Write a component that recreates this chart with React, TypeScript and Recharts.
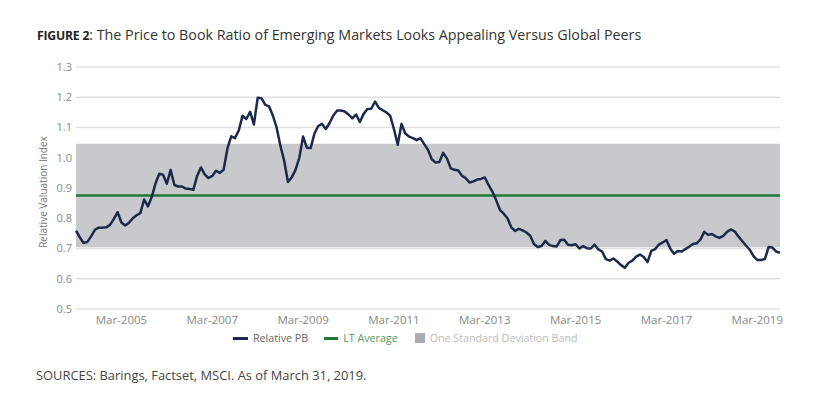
import React from 'react';
import { LineChart, Line, XAxis, YAxis, CartesianGrid, ReferenceArea } from 'recharts';

// monthly relative price-to-book, Mar-2004 onwards
const START_YEAR = 2004;
const START_MONTH = 2;
const MONTH_NAMES = ['Jan', 'Feb', 'Mar', 'Apr', 'May', 'Jun', 'Jul', 'Aug', 'Sep', 'Oct', 'Nov', 'Dec'];

const relativePB = [
  0.759, 0.737, 0.718, 0.722, 0.74, 0.762, 0.769, 0.769, 0.77, 0.778, 0.798, 0.82,
  0.786, 0.776, 0.785, 0.8, 0.81, 0.817, 0.862, 0.839, 0.87, 0.915, 0.947, 0.944,
  0.914, 0.96, 0.91, 0.905, 0.905, 0.898, 0.897, 0.894, 0.94, 0.968, 0.945, 0.933,
  0.94, 0.957, 0.95, 0.96, 1.03, 1.071, 1.065, 1.09, 1.139, 1.128, 1.152, 1.11,
  1.198, 1.197, 1.175, 1.17, 1.14, 1.1, 1.04, 0.99, 0.92, 0.935, 0.96, 1.0,
  1.07, 1.033, 1.032, 1.08, 1.105, 1.112, 1.095, 1.115, 1.14, 1.156, 1.156, 1.153,
  1.143, 1.13, 1.143, 1.118, 1.145, 1.161, 1.162, 1.186, 1.165, 1.157, 1.15, 1.139,
  1.095, 1.043, 1.112, 1.08, 1.07, 1.065, 1.058, 1.065, 1.045, 1.026, 0.995, 0.984,
  0.986, 1.016, 0.998, 0.965, 0.96, 0.958, 0.94, 0.932, 0.918, 0.922, 0.928, 0.93,
  0.935, 0.91, 0.888, 0.86, 0.828, 0.815, 0.8, 0.77, 0.758, 0.765, 0.76, 0.753,
  0.742, 0.715, 0.705, 0.708, 0.725, 0.712, 0.708, 0.707, 0.728, 0.729, 0.712, 0.711,
  0.714, 0.7, 0.708, 0.701, 0.7, 0.713, 0.697, 0.69, 0.665, 0.66, 0.667, 0.657,
  0.645, 0.636, 0.653, 0.66, 0.673, 0.68, 0.672, 0.655, 0.692, 0.698, 0.713, 0.72,
  0.728, 0.7, 0.683, 0.692, 0.69, 0.698, 0.706, 0.715, 0.717, 0.73, 0.755, 0.745,
  0.748, 0.74, 0.735, 0.742, 0.755, 0.763, 0.757, 0.74, 0.725, 0.71, 0.696, 0.675,
  0.662, 0.662, 0.665, 0.705, 0.703, 0.69, 0.686,
];

const LT_AVERAGE = 0.875;
const BAND_LOW = 0.704;
const BAND_HIGH = 1.046;

const yTicks = [0.5, 0.6, 0.7, 0.8, 0.9, 1.0, 1.1, 1.2, 1.3];
const xTicks = ['Mar-2005', 'Mar-2007', 'Mar-2009', 'Mar-2011', 'Mar-2013', 'Mar-2015', 'Mar-2017', 'Mar-2019'];

const months = relativePB.map((_, i) => {
  const m = START_MONTH + i;
  return `${MONTH_NAMES[m % 12]}-${START_YEAR + Math.floor(m / 12)}`;
});

const data = months.map((month, i) => ({ month, pb: relativePB[i], avg: LT_AVERAGE }));

const NAVY = '#1b2a4c';
const GREEN = '#1f7a35';
const BAND = '#c7c9cc';
const FONT = '"Open Sans", sans-serif';

export default function App() {
  return (
    <div style={{ position: 'absolute', left: 0, top: 0, width: 829, height: 394, background: '#fff', fontFamily: FONT }}>
      <div style={{ position: 'absolute', left: 37, top: 25, fontSize: 14.3, color: '#333', whiteSpace: 'nowrap' }}>
        <span style={{ fontWeight: 700, fontSize: 12.2, color: '#222', letterSpacing: -0.2 }}>FIGURE 2</span>: The Price to Book Ratio of
        Emerging Markets Looks Appealing Versus Global Peers
      </div>
      <div
        style={{
          position: 'absolute',
          left: 43,
          top: 192,
          transform: 'translate(-50%, -50%) rotate(-90deg)',
          fontSize: 10,
          color: '#777',
          whiteSpace: 'nowrap',
        }}
      >
        Relative Valuation Index
      </div>
      <div style={{ position: 'absolute', left: 0, top: 0 }}>
        <LineChart width={829} height={394} data={data} margin={{ top: 67, right: 49, bottom: 55, left: 0 }}>
          <ReferenceArea y1={BAND_LOW} y2={BAND_HIGH} fill={BAND} fillOpacity={1} stroke="none" ifOverflow="hidden" />
          <CartesianGrid vertical={false} stroke="rgba(0,0,0,0.12)" strokeWidth={1.5} horizontalValues={yTicks} />
          <XAxis
            dataKey="month"
            height={30}
            ticks={xTicks}
            interval={0}
            axisLine={false}
            tickLine={false}
            tickSize={0}
            tickMargin={7}
            tick={{ fill: '#888', fontSize: 11.5, fontFamily: FONT }}
          />
          <YAxis
            width={76}
            domain={[0.5, 1.3]}
            ticks={yTicks}
            interval={0}
            axisLine={false}
            tickLine={false}
            tickSize={2}
            tickMargin={2}
            tickFormatter={(v: number) => v.toFixed(1)}
            tick={{ fill: '#888', fontSize: 11, fontFamily: FONT }}
          />
          <Line dataKey="avg" stroke={GREEN} strokeWidth={2.5} dot={false} isAnimationActive={false} />
          <Line dataKey="pb" stroke={NAVY} strokeWidth={2.5} dot={false} isAnimationActive={false} strokeLinejoin="round" />
        </LineChart>
      </div>
      <div
        style={{
          position: 'absolute',
          left: 233,
          top: 331,
          display: 'flex',
          alignItems: 'center',
          fontSize: 10.7,
          whiteSpace: 'nowrap',
        }}
      >
        <span style={{ display: 'inline-block', width: 15, height: 3, background: NAVY, marginRight: 5 }} />
        <span style={{ color: '#666', marginRight: 16 }}>Relative PB</span>
        <span style={{ display: 'inline-block', width: 14, height: 3, background: GREEN, marginRight: 5 }} />
        <span style={{ color: '#4f9a62', marginRight: 17 }}>LT Average</span>
        <span style={{ display: 'inline-block', width: 10, height: 10, background: '#a9acb0', marginRight: 5 }} />
        <span style={{ color: '#bbb' }}>One Standard Deviation Band</span>
      </div>
      <div style={{ position: 'absolute', left: 36, top: 366, fontSize: 12.9, color: '#444', whiteSpace: 'nowrap' }}>
        SOURCES: Barings, Factset, MSCI. As of March 31, 2019.
      </div>
    </div>
  );
}
